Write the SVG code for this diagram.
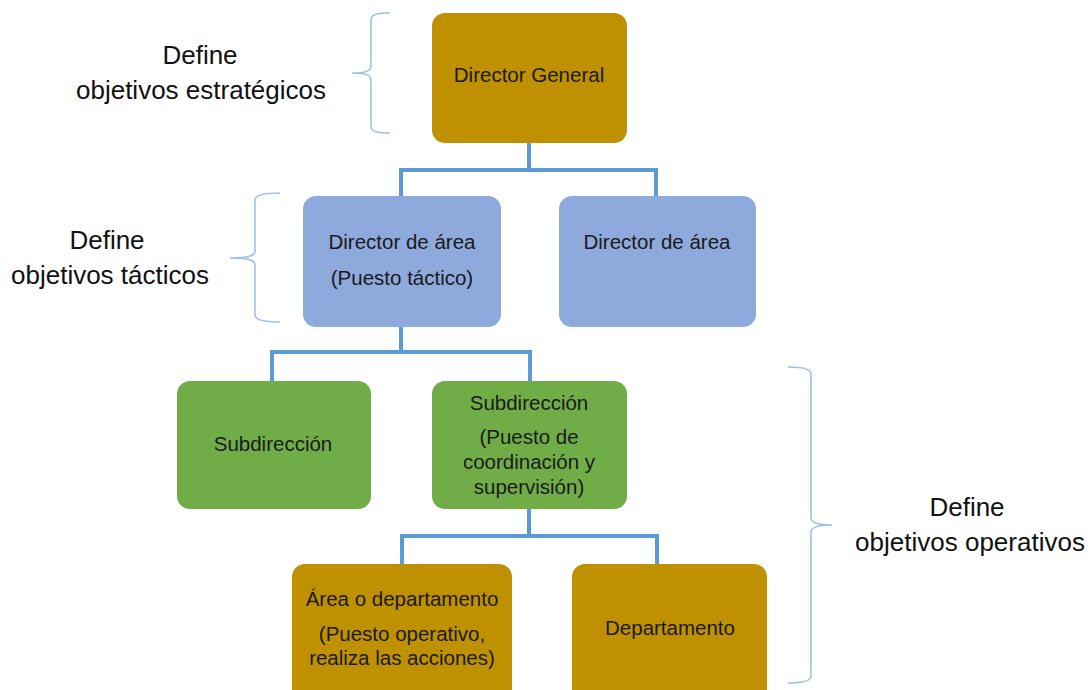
<svg xmlns="http://www.w3.org/2000/svg" width="1092" height="690" viewBox="0 0 1092 690">
  <style>
    .box { stroke: none; }
    .gold { fill: #BF9000; }
    .blue { fill: #8EA9DB; }
    .green { fill: #70AD47; }
    .t { font-family: "Liberation Sans", Arial, sans-serif; font-size: 20.5px; fill: #1a1a1a; text-anchor: middle; }
    .lbl { font-family: "Liberation Sans", Arial, sans-serif; font-size: 26px; fill: #111; text-anchor: middle; }
    .conn { fill: none; stroke: #5B9BD5; stroke-width: 4; }
    .brace { fill: none; stroke: #9DC3E6; stroke-width: 1.6; }
  </style>
  <rect width="1092" height="690" fill="#ffffff"/>

  <!-- connectors -->
  <g id="connectors">
    <path class="conn" d="M529 143 V170 M401 170 H656 M401 168 V196 M656 168 V196"/>
    <path class="conn" d="M401 327 V352 M272 352 H530 M272 350 V381 M530 350 V381"/>
    <path class="conn" d="M529 509 V536 M402 536 H657 M402 534 V564 M657 534 V564"/>
  </g>

  <!-- braces -->
  <g id="braces">
    <path class="brace" d="M390 13 C378 13 371 14 371 20 V66 C371 71 366 73 352 73 C366 73 371 75 371 80 V126 C371 132 378 133 390 133"/>
    <path class="brace" d="M280 193 C267 193 255 194 255 200 V251 C255 256 248 258 230 258 C248 258 255 260 255 265 V315 C255 321 267 322 280 322"/>
    <path class="brace" d="M788 367 C800 367 811 368 811 374 V518 C811 523 818 525 832 525 C818 525 811 527 811 532 V676 C811 682 800 683 788 683"/>
  </g>

  <!-- level labels -->
  <g id="label-estrategicos">
    <text class="lbl" x="200" y="64">Define</text>
    <text class="lbl" x="201" y="99">objetivos estratégicos</text>
  </g>
  <g id="label-tacticos">
    <text class="lbl" x="107" y="249">Define</text>
    <text class="lbl" x="110" y="284">objetivos tácticos</text>
  </g>
  <g id="label-operativos">
    <text class="lbl" x="967" y="516">Define</text>
    <text class="lbl" x="970" y="551">objetivos operativos</text>
  </g>

  <!-- nodes -->
  <g id="director-general">
    <rect class="box gold" x="432" y="13" width="195" height="130" rx="13"/>
    <text class="t" x="529" y="82">Director General</text>
  </g>
  <g id="director-area-1">
    <rect class="box blue" x="303" y="196" width="198" height="131" rx="13"/>
    <text class="t" x="402" y="249">Director de área</text>
    <text class="t" x="402" y="285">(Puesto táctico)</text>
  </g>
  <g id="director-area-2">
    <rect class="box blue" x="559" y="196" width="197" height="131" rx="13"/>
    <text class="t" x="657" y="249">Director de área</text>
  </g>
  <g id="subdireccion-1">
    <rect class="box green" x="177" y="381" width="194" height="128" rx="13"/>
    <text class="t" x="273" y="451">Subdirección</text>
  </g>
  <g id="subdireccion-2">
    <rect class="box green" x="432" y="381" width="195" height="128" rx="13"/>
    <text class="t" x="529" y="410">Subdirección</text>
    <text class="t" x="529" y="444">(Puesto de</text>
    <text class="t" x="529" y="469">coordinación y</text>
    <text class="t" x="529" y="494">supervisión)</text>
  </g>
  <g id="area-departamento">
    <rect class="box gold" x="292" y="564" width="220" height="140" rx="13"/>
    <text class="t" x="402" y="606">Área o departamento</text>
    <text class="t" x="402" y="641">(Puesto operativo,</text>
    <text class="t" x="402" y="665">realiza las acciones)</text>
  </g>
  <g id="departamento">
    <rect class="box gold" x="572" y="564" width="195" height="140" rx="13"/>
    <text class="t" x="670" y="635">Departamento</text>
  </g>
</svg>
